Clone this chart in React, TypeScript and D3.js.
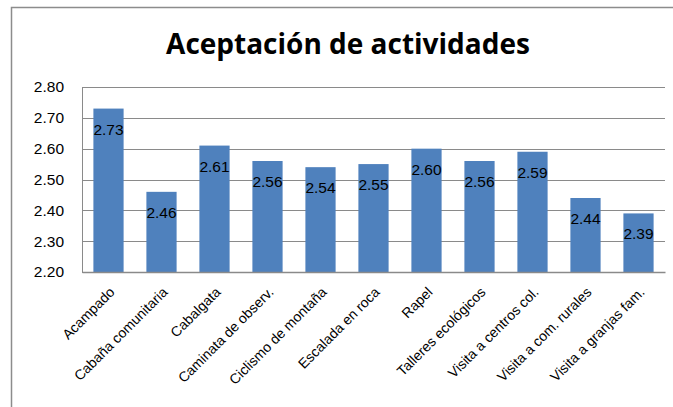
import React, { useEffect, useRef } from 'react';
import * as d3 from 'd3';

const categories = [
  'Acampado',
  'Cabaña comunitaria',
  'Cabalgata',
  'Caminata de observ.',
  'Ciclismo de montaña',
  'Escalada en roca',
  'Rapel',
  'Talleres ecológicos',
  'Visita a centros col.',
  'Visita a com. rurales',
  'Visita a granjas fam.',
];
const values = [2.73, 2.46, 2.61, 2.56, 2.54, 2.55, 2.6, 2.56, 2.59, 2.44, 2.39];
const yTicks = [2.2, 2.3, 2.4, 2.5, 2.6, 2.7, 2.8];

const W = 673;
const H = 407;
const margin = { left: 82, top: 87, right: 8, bottom: 135 };
const font = "'Liberation Sans', Arial, sans-serif";

export default function App() {
  const svgRef = useRef<SVGSVGElement>(null);

  useEffect(() => {
    const svg = d3.select(svgRef.current);
    svg.selectAll('*').remove();

    const iw = W - margin.left - margin.right;
    const ih = H - margin.top - margin.bottom;

    svg.append('rect').attr('width', W).attr('height', H).attr('fill', '#fff');
    // chart border
    svg.append('rect')
      .attr('x', 11.5).attr('y', 7.5).attr('width', W + 20).attr('height', H + 20)
      .attr('fill', 'none').attr('stroke', '#8c8c8c').attr('stroke-width', 1.5);

    svg.append('text')
      .attr('x', 348).attr('y', 54)
      .attr('text-anchor', 'middle')
      .attr('font-family', "'Open Sans', 'Liberation Sans', sans-serif")
      .attr('font-weight', 'bold').attr('font-size', 28)
      .attr('fill', '#000')
      .text('Aceptación de actividades');

    const x = d3.scaleBand().domain(categories).range([0, iw]).paddingInner(0.43).paddingOuter(0.215);
    const y = d3.scaleLinear().domain([2.2, 2.8]).range([ih, 0]);

    const g = svg.append('g').attr('transform', `translate(${margin.left},${margin.top})`);

    g.selectAll('.grid').data(yTicks).enter().append('line')
      .attr('x1', 0).attr('x2', iw)
      .attr('y1', d => Math.round(y(d)) + 0.5).attr('y2', d => Math.round(y(d)) + 0.5)
      .attr('stroke', '#8a8a8a').attr('stroke-width', 1);

    const yAxis = g.append('g').call(d3.axisLeft(y).tickValues(yTicks).tickFormat(d3.format('.2f')).tickSize(0).tickPadding(18));
    yAxis.select('.domain').attr('stroke', '#8a8a8a');
    yAxis.selectAll('text').attr('font-family', font).attr('font-size', 15.5).attr('fill', '#000');

    g.selectAll('.bar').data(values).enter().append('rect')
      .attr('x', (d, i) => x(categories[i])!)
      .attr('y', d => y(d))
      .attr('width', x.bandwidth())
      .attr('height', d => ih - y(d))
      .attr('fill', '#4f81bd');

    g.selectAll('.lbl').data(values).enter().append('text')
      .attr('x', (d, i) => x(categories[i])! + x.bandwidth() / 2)
      .attr('y', d => y(d) + 26)
      .attr('text-anchor', 'middle')
      .attr('font-family', font).attr('font-size', 15.5)
      .attr('fill', '#000')
      .text(d => d.toFixed(2));

    const xAxis = g.append('g').attr('transform', `translate(0,${ih})`)
      .call(d3.axisBottom(x).tickSize(0).tickPadding(0));
    xAxis.select('.domain').attr('stroke', '#8a8a8a').attr('stroke-width', 1.5);
    xAxis.selectAll('text')
      .attr('font-family', font).attr('font-size', 14).attr('fill', '#000')
      .attr('text-anchor', 'end')
      .attr('dy', null)
      .attr('transform', 'translate(7,21) rotate(-45)');
  }, []);

  return (
    <svg ref={svgRef} width={W} height={H} style={{ position: 'absolute', left: 0, top: 0 }} />
  );
}
